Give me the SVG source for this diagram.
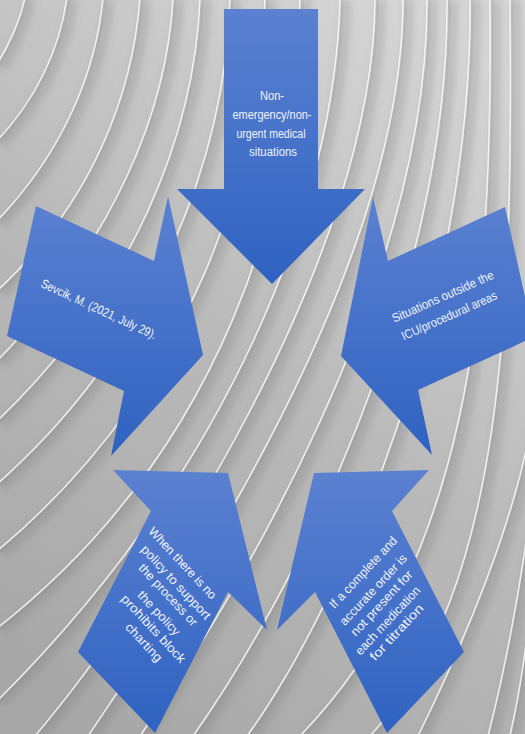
<svg xmlns="http://www.w3.org/2000/svg" xmlns:xlink="http://www.w3.org/1999/xlink" width="525" height="734" viewBox="0 0 525 734">
<defs>
  <linearGradient id="bg" x1="0.75" y1="0" x2="0.25" y2="1">
    <stop offset="0" stop-color="#d6d6d6"/>
    <stop offset="0.5" stop-color="#bababa"/>
    <stop offset="1" stop-color="#a8a8a8"/>
  </linearGradient>
  <linearGradient id="blue" x1="0" y1="0" x2="0" y2="1">
    <stop offset="0" stop-color="#5b81d1"/>
    <stop offset="1" stop-color="#2f62c1"/>
  </linearGradient>
  <filter id="blurS" x="-20%" y="-20%" width="140%" height="140%"><feGaussianBlur stdDeviation="3"/></filter>
  <filter id="blurM" x="-20%" y="-20%" width="140%" height="140%"><feGaussianBlur stdDeviation="1.2"/></filter>
  <filter id="blurH" x="-20%" y="-20%" width="140%" height="140%"><feGaussianBlur stdDeviation="0.7"/></filter>
  <g id="stripes" fill="none">
    <path d="M25,-2 C20,20 12,40 -4,66"/>
    <path d="M67,-2 C60,45 40,95 -4,142"/>
    <path d="M103,-2 C96,70 65,150 -4,222"/>
    <path d="M140,-2 C133,90 95,200 -4,292"/>
    <path d="M173,-2 C167,110 115,240 -4,362"/>
    <path d="M200,-2 C195,130 135,290 -4,422"/>
    <path d="M230,-2 C226,150 160,340 -4,485"/>
    <path d="M265,-2 C262,170 190,390 -4,552"/>
    <path d="M300,-2 C298,190 225,450 -4,629"/>
    <path d="M340,-2 C336,200 230,470 -4,702"/>
    <path d="M375,-2 C375,260 150,600 35,736"/>
    <path d="M403,-2 C404,270 180,600 88,736"/>
    <path d="M427,-2 C429,280 235,600 140,736"/>
    <path d="M447,-2 C450,290 290,600 193,736"/>
    <path d="M470,-2 C473,300 345,600 247,736"/>
    <path d="M490,-2 C493,300 470,560 300,736"/>
    <path d="M510,-2 C513,310 505,590 370,736"/>
    <path d="M532,420 C515,520 470,630 418,736"/>
    <path d="M532,500 C520,590 505,670 488,736"/>
    <path d="M530,610 C525,660 518,700 510,736"/>
  </g>
</defs>
<style>
  .arrow { fill: url(#blue); }
  .lbl { font-family: "Liberation Sans", Arial, sans-serif; font-size: 12.5px; fill: #f1f3fa; text-anchor: middle; }
</style>

<g id="background">
  <rect x="0" y="0" width="525" height="734" fill="url(#bg)"/>
  <g filter="url(#blurS)" transform="translate(6,2)" fill="none" stroke="#777777" stroke-width="10" stroke-opacity="0.25"><use xlink:href="#stripes"/></g>
  <g filter="url(#blurM)" transform="translate(2,1)" fill="none" stroke="#6e6e6e" stroke-width="2.5" stroke-opacity="0.25"><use xlink:href="#stripes"/></g>
  <g filter="url(#blurH)" fill="none" stroke="#ffffff" stroke-width="1.6" stroke-opacity="0.8"><use xlink:href="#stripes"/></g>
</g>

<g id="connectors"/>

<g id="node-top">
  <polygon class="arrow" points="224,9 318,9 318,189 365,189 272,284 177,189 224,189"/>
  <text class="lbl" x="272" y="100" textLength="24" lengthAdjust="spacingAndGlyphs">Non-</text>
  <text class="lbl" x="272" y="119" textLength="79" lengthAdjust="spacingAndGlyphs">emergency/non-</text>
  <text class="lbl" x="271" y="137.5" textLength="69" lengthAdjust="spacingAndGlyphs">urgent medical</text>
  <text class="lbl" x="273" y="156" textLength="48" lengthAdjust="spacingAndGlyphs">situations</text>
</g>

<g id="node-left">
  <polygon class="arrow" points="36,206 154,261 168,196 203,355 111,456 124,391 7,336"/>
  <text class="lbl" transform="translate(97,313) rotate(25)" x="0" y="0" textLength="126" lengthAdjust="spacingAndGlyphs">Sevcik, M. (2021, July 29).</text>
</g>

<g id="node-right">
  <polygon class="arrow" points="505,207 388,261 373,197 341,356 432,455 418,390 534,337"/>
  <g transform="translate(447.7,310) rotate(-24)">
    <text class="lbl" x="1" y="-10" textLength="110" lengthAdjust="spacingAndGlyphs">Situations outside the</text>
    <text class="lbl" x="-1" y="10" textLength="103" lengthAdjust="spacingAndGlyphs">ICU/procedural areas</text>
  </g>
</g>

<g id="node-bottom-left">
  <polygon class="arrow" points="113,470 228,473 267,630 228,592 155,733 78,652 151,511"/>
  <text class="lbl" dominant-baseline="central" transform="translate(182.5,563.3) rotate(47)" textLength="93" lengthAdjust="spacingAndGlyphs">When there is no</text>
  <text class="lbl" dominant-baseline="central" transform="translate(175.8,582.5) rotate(47)" textLength="96" lengthAdjust="spacingAndGlyphs">policy to support</text>
  <text class="lbl" dominant-baseline="central" transform="translate(168,595) rotate(47)" textLength="80" lengthAdjust="spacingAndGlyphs">the process or</text>
  <text class="lbl" dominant-baseline="central" transform="translate(158.8,613.3) rotate(47)" textLength="56" lengthAdjust="spacingAndGlyphs">the policy</text>
  <text class="lbl" dominant-baseline="central" transform="translate(153.3,629) rotate(47)" textLength="88" lengthAdjust="spacingAndGlyphs">prohibits block</text>
  <text class="lbl" dominant-baseline="central" transform="translate(143.7,642.5) rotate(47)" textLength="48" lengthAdjust="spacingAndGlyphs">charting</text>
</g>

<g id="node-bottom-right">
  <polygon class="arrow" points="429,470 314,473 277,630 315,592 387,733 464,652 392,511"/>
  <text class="lbl" dominant-baseline="central" transform="translate(363.3,572.5) rotate(-47)" textLength="93" lengthAdjust="spacingAndGlyphs">If a complete and</text>
  <text class="lbl" dominant-baseline="central" transform="translate(373.3,590) rotate(-47)" textLength="92" lengthAdjust="spacingAndGlyphs">accurate order is</text>
  <text class="lbl" dominant-baseline="central" transform="translate(381.7,603.3) rotate(-47)" textLength="85" lengthAdjust="spacingAndGlyphs">not present for</text>
  <text class="lbl" dominant-baseline="central" transform="translate(387.8,620.8) rotate(-47)" textLength="89" lengthAdjust="spacingAndGlyphs">each medication</text>
  <text class="lbl" dominant-baseline="central" transform="translate(396.7,632.5) rotate(-47)" textLength="72" lengthAdjust="spacingAndGlyphs">for titration</text>
</g>
</svg>
